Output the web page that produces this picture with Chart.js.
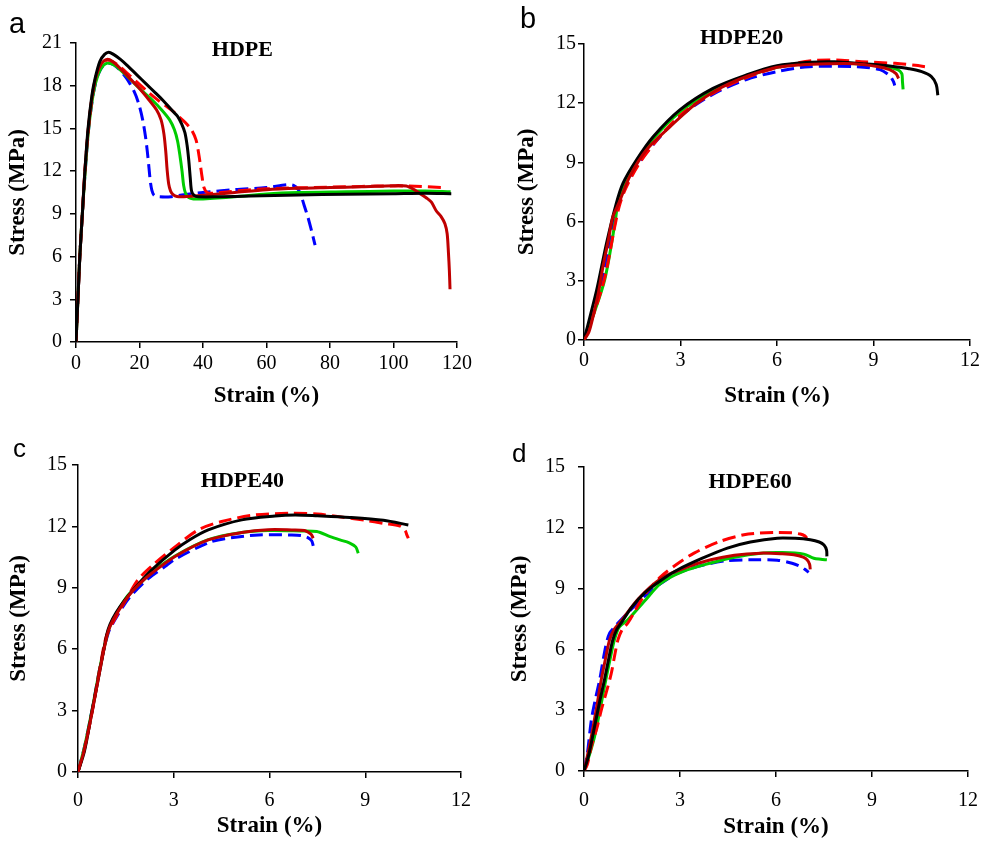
<!DOCTYPE html>
<html lang="en">
<head>
<meta charset="UTF-8">
<title>Stress-strain curves HDPE</title>
<script src="https://cdn.jsdelivr.net/npm/chart.js"></script>
<style>
    body { margin: 0; background: #fff; }
    #wrap { position: relative; width: 990px; height: 842px; }
    canvas { position: absolute; }
</style>
</head>
<body>
<div id="wrap">
    <canvas id="panelA" width="495" height="420" style="left:0;top:0"></canvas>
    <canvas id="panelB" width="495" height="420" style="left:495px;top:0"></canvas>
    <canvas id="panelC" width="495" height="422" style="left:0;top:420px"></canvas>
    <canvas id="panelD" width="495" height="422" style="left:495px;top:420px"></canvas>
</div>
<script>
// ---- data: strain (%) and stress (MPa) per specimen ----

// a: HDPE
const aBlackX = [0, 0.6, 1.2, 2, 2.8, 3.8, 5, 6, 7.5, 9, 10.3, 11.8, 14, 16, 19, 22, 25, 27.5, 30.5, 32, 33.3, 34.3, 35, 35.5, 36, 36.4, 37.2, 38.5, 45, 55, 70, 85, 100, 110, 118.2];
const aBlackY = [0, 3, 6, 9, 12, 15, 17.3, 18.5, 19.7, 20.2, 20.35, 20.2, 19.85, 19.45, 18.8, 18.15, 17.5, 16.95, 16.2, 15.85, 15.3, 14.7, 13.8, 12.8, 11.5, 10.6, 10.3, 10.2, 10.2, 10.25, 10.32, 10.38, 10.42, 10.45, 10.42];
const aGreenX = [0, 0.6, 1.2, 2, 2.9, 4, 5.5, 7, 8.5, 10, 12, 15, 18, 21, 24, 27, 29.5, 31, 32, 32.8, 33.4, 33.9, 34.5, 35.5, 37, 40, 50, 60, 70, 85, 100, 110, 118];
const aGreenY = [0, 3, 6, 9, 12, 15, 17.5, 18.8, 19.4, 19.6, 19.45, 18.9, 18.25, 17.6, 17.0, 16.3, 15.6, 14.9, 14.1, 13.0, 12.0, 11.0, 10.45, 10.15, 10.05, 10.05, 10.2, 10.4, 10.5, 10.55, 10.6, 10.6, 10.55];
const aDarkRedX = [0, 0.6, 1.2, 2, 2.8, 3.9, 5.2, 6.5, 8, 9.8, 11.5, 14, 17, 20, 23, 25.4, 26.8, 27.7, 28.3, 28.7, 29.2, 29.8, 30.6, 31.8, 34, 40, 50, 60, 70, 80, 90, 100, 104, 106.5, 108.5, 110.5, 112, 113.5, 115, 116.2, 116.9, 117.3, 117.6, 117.8];
const aDarkRedY = [0, 3, 6, 9, 12, 15, 17.4, 18.8, 19.55, 19.85, 19.7, 19.2, 18.5, 17.8, 17.0, 16.3, 15.6, 14.6, 13.3, 12.1, 11.1, 10.6, 10.35, 10.22, 10.2, 10.3, 10.5, 10.7, 10.8, 10.85, 10.9, 10.98, 10.95, 10.7, 10.4, 10.1, 9.8, 9.2, 8.8, 8.3, 7.6, 6.3, 5.0, 3.7];
const aBlueX = [0, 0.6, 1.2, 2, 2.9, 4, 5.5, 7, 8.5, 10, 12, 14, 16, 18.3, 19.8, 21, 21.9, 22.5, 23, 23.4, 23.9, 24.6, 26, 30, 34, 40, 50, 60, 66.5, 68.5, 70, 71, 72, 73, 74.2, 75.3];
const aBlueY = [0, 3, 6, 9, 12, 15, 17.5, 18.8, 19.4, 19.6, 19.45, 19.05, 18.5, 17.6, 16.7, 15.6, 14.4, 13.3, 12.2, 11.3, 10.65, 10.3, 10.2, 10.2, 10.35, 10.5, 10.7, 10.85, 11.05, 11.0, 10.7, 10.2, 9.5, 8.8, 7.8, 6.8];
const aRedX = [0, 0.6, 1.2, 2, 2.8, 3.9, 5.2, 6.5, 8, 9.8, 11.5, 14, 17, 20, 23, 26, 28.5, 30.6, 32.5, 34.5, 36.4, 37.8, 38.6, 39.2, 39.7, 40.3, 41.3, 43.2, 48, 55, 65, 75, 85, 95, 105, 115];
const aRedY = [0, 3, 6, 9, 12, 15, 17.4, 18.8, 19.55, 19.8, 19.7, 19.3, 18.7, 18.1, 17.5, 16.95, 16.55, 16.2, 15.8, 15.4, 14.9, 14.2, 13.3, 12.4, 11.6, 10.85, 10.5, 10.45, 10.55, 10.7, 10.8, 10.85, 10.9, 10.95, 10.95, 10.85];

// b: HDPE20
const bBlackX = [0, 0.39, 0.7, 1.0, 1.21, 1.63, 2.15, 2.98, 4.01, 5.05, 6.0, 7.07, 7.8, 8.63, 9.2, 9.67, 10.1, 10.5, 10.8, 10.95, 11.0];
const bBlackY = [0, 2.5, 4.9, 6.9, 7.94, 9.12, 10.3, 11.66, 12.75, 13.43, 13.9, 14.08, 14.1, 14.0, 13.93, 13.85, 13.75, 13.6, 13.35, 12.95, 12.4];
const bGreenX = [0, 0.3, 0.65, 0.97, 1.05, 1.25, 1.65, 2.15, 2.98, 4.01, 5.05, 6.0, 7.1, 8.5, 9.4, 9.75, 9.88, 9.9, 9.92];
const bGreenY = [0, 1.3, 3.1, 6.0, 6.9, 7.85, 9.05, 10.2, 11.55, 12.65, 13.35, 13.82, 14.02, 14.0, 13.85, 13.7, 13.5, 13.1, 12.7];
const bDarkRedX = [0, 0.15, 0.28, 0.45, 0.59, 0.75, 0.9, 1.1, 1.42, 1.94, 2.67, 3.5, 4.53, 5.88, 6.8, 7.59, 8.4, 9.15, 9.5, 9.7, 9.78];
const bDarkRedY = [0, 0.4, 1.18, 2.4, 3.72, 5.0, 6.25, 7.0, 8.28, 9.63, 10.8, 12.0, 13.0, 13.77, 13.95, 14.0, 14.0, 13.85, 13.7, 13.5, 13.25];
const bBlueX = [0, 0.28, 0.6, 0.9, 1.05, 1.25, 1.65, 2.2, 3.0, 4.0, 5.05, 6.0, 7.0, 8.5, 9.2, 9.5, 9.62, 9.66];
const bBlueY = [0, 1.5, 3.3, 5.8, 6.8, 7.7, 8.85, 10.0, 11.35, 12.45, 13.2, 13.6, 13.85, 13.85, 13.7, 13.4, 13.1, 12.9];
const bRedX = [0, 0.3, 0.65, 0.95, 1.1, 1.3, 1.7, 2.25, 3.0, 4.0, 5.05, 6.0, 7.07, 8.0, 8.63, 9.67, 10.3, 10.6];
const bRedY = [0, 1.3, 3.2, 5.7, 6.8, 7.7, 8.9, 10.1, 11.4, 12.5, 13.3, 13.8, 14.15, 14.18, 14.1, 14.02, 13.92, 13.85];

// c: HDPE40
const cBlackX = [0, 0.2, 0.43, 0.69, 0.9, 1.0, 1.2, 1.47, 1.9, 2.31, 3.04, 3.5, 4.08, 5.13, 6.17, 6.8, 7.5, 8.52, 9.57, 10.35];
const cBlackY = [0, 1.0, 2.88, 5.0, 6.7, 7.2, 7.8, 8.41, 9.2, 9.88, 10.85, 11.35, 11.83, 12.32, 12.51, 12.56, 12.52, 12.44, 12.3, 12.07];
const cGreenX = [0, 0.2, 0.45, 0.7, 0.95, 1.15, 1.55, 2.0, 2.31, 3.04, 4.08, 5.13, 5.96, 6.96, 7.48, 7.9, 8.21, 8.5, 8.7, 8.78];
const cGreenY = [0, 1.2, 3.1, 5.2, 6.9, 7.6, 8.6, 9.3, 9.75, 10.55, 11.35, 11.7, 11.8, 11.78, 11.75, 11.5, 11.34, 11.2, 11.0, 10.69];
const cDarkRedX = [0, 0.2, 0.45, 0.7, 0.9, 1.0, 1.16, 1.58, 2.0, 2.31, 3.04, 4.08, 5.13, 5.96, 6.7, 7.1, 7.3, 7.37];
const cDarkRedY = [0, 1.1, 3.0, 5.1, 6.6, 7.1, 7.6, 8.6, 9.3, 9.71, 10.53, 11.34, 11.7, 11.84, 11.83, 11.8, 11.62, 11.42];
const cBlueX = [0, 0.2, 0.45, 0.7, 0.95, 1.2, 1.6, 2.2, 2.78, 3.04, 4.08, 4.6, 5.65, 6.7, 7.0, 7.2, 7.32, 7.37];
const cBlueY = [0, 1.2, 3.1, 5.2, 6.8, 7.55, 8.5, 9.45, 10.1, 10.4, 11.2, 11.4, 11.58, 11.58, 11.55, 11.45, 11.3, 11.05];
const cRedX = [0, 0.2, 0.45, 0.7, 0.9, 1.2, 1.5, 1.89, 2.41, 3.0, 3.77, 4.5, 5.55, 6.7, 7.5, 8.3, 9.0, 9.57, 10.09, 10.25, 10.3, 10.35];
const cRedY = [0, 1.1, 3.0, 5.2, 6.7, 7.6, 8.4, 9.41, 10.2, 10.95, 11.83, 12.24, 12.56, 12.64, 12.6, 12.45, 12.3, 12.15, 12.02, 11.8, 11.6, 11.42];

// d: HDPE60
const dBlackX = [0, 0.15, 0.33, 0.5, 0.64, 0.78, 0.9, 1.03, 1.16, 1.5, 1.89, 2.4, 2.93, 3.7, 4.48, 5.2, 6.04, 6.6, 7.07, 7.35, 7.5, 7.58, 7.59];
const dBlackY = [0, 0.8, 2.19, 3.5, 4.5, 5.6, 6.47, 7.0, 7.3, 8.1, 8.78, 9.4, 9.93, 10.5, 11.0, 11.3, 11.49, 11.48, 11.41, 11.3, 11.15, 10.9, 10.59];
const dGreenX = [0, 0.15, 0.33, 0.5, 0.64, 0.8, 0.95, 1.1, 1.37, 1.9, 2.41, 3.1, 3.96, 4.7, 5.52, 6.2, 6.87, 7.18, 7.4, 7.59];
const dGreenY = [0, 0.7, 1.7, 3.0, 4.17, 5.4, 6.47, 7.1, 7.46, 8.4, 9.27, 9.85, 10.26, 10.55, 10.75, 10.78, 10.7, 10.5, 10.45, 10.42];
const dDarkRedX = [0, 0.1, 0.23, 0.4, 0.54, 0.68, 0.8, 0.95, 1.16, 1.7, 2.41, 3.2, 3.96, 4.7, 5.52, 6.2, 6.56, 6.85, 6.97, 7.05, 7.07];
const dDarkRedY = [0, 0.7, 1.7, 3.2, 4.5, 5.6, 6.47, 7.0, 7.4, 8.5, 9.5, 10.05, 10.42, 10.65, 10.75, 10.72, 10.67, 10.55, 10.42, 10.2, 9.95];
const dBlueX = [0, 0.1, 0.23, 0.35, 0.49, 0.6, 0.7, 0.8, 0.95, 1.3, 1.89, 2.4, 2.93, 3.7, 4.48, 5.2, 6.04, 6.5, 6.76, 6.9, 7.02];
const dBlueY = [0, 0.8, 2.52, 3.5, 4.5, 5.5, 6.3, 6.8, 7.1, 7.7, 8.61, 9.25, 9.76, 10.15, 10.38, 10.42, 10.4, 10.25, 10.09, 9.95, 9.8];
const dRedX = [0, 0.1, 0.23, 0.4, 0.54, 0.7, 0.85, 0.97, 1.06, 1.2, 1.37, 1.9, 2.41, 2.9, 3.44, 4.2, 5.0, 5.5, 6.04, 6.5, 6.76, 6.9, 6.97];
const dRedY = [0, 0.3, 1.2, 2.1, 3.0, 3.9, 4.8, 5.8, 6.47, 7.0, 7.3, 8.7, 9.6, 10.2, 10.75, 11.3, 11.66, 11.74, 11.77, 11.75, 11.69, 11.6, 11.49];

// ---- styles ----
const SERIF = '"Liberation Serif", "Times New Roman", serif';
const SANS = '"Liberation Sans", Arial, sans-serif';
const styles = {
    darkRed: { color: '#C00000', dash: [] },
    black:   { color: '#000000', dash: [] },
    red:     { color: '#FF0000', dash: [13, 6] },
    green:   { color: '#00CC00', dash: [] },
    blue:    { color: '#0000FF', dash: [13, 6] }
};

function pts(xs, ys) {
    return xs.map((x, i) => ({ x: x, y: ys[i] }));
}

function series(style, xs, ys) {
    const s = styles[style];
    return {
        data: pts(xs, ys),
        borderColor: s.color,
        borderDash: s.dash,
        borderWidth: 3,
        pointRadius: 0,
        tension: 0.3,
        fill: false
    };
}

// letters and panel titles
const panelText = {
    id: 'panelText',
    afterDraw(chart, args, o) {
        const ctx = chart.ctx;
        ctx.save();
        ctx.fillStyle = '#000';
        ctx.font = o.letterSize + 'px ' + SANS;
        ctx.textAlign = 'left';
        ctx.textBaseline = 'alphabetic';
        ctx.fillText(o.letter, o.letterX, o.letterY);
        ctx.font = 'bold 22px ' + SERIF;
        ctx.textAlign = 'center';
        ctx.textBaseline = 'middle';
        ctx.fillText(o.title, chart.scales.x.getPixelForValue(o.titleAt[0]), chart.scales.y.getPixelForValue(o.titleAt[1]));
        ctx.restore();
    }
};

function makePanel(id, p) {
    new Chart(document.getElementById(id), {
        type: 'line',
        data: { datasets: p.datasets },
        plugins: [panelText],
        options: {
            responsive: false,
            animation: false,
            devicePixelRatio: 1,
            layout: { padding: { top: p.padTop, right: p.padRight, left: 0, bottom: 0 } },
            plugins: {
                legend: { display: false },
                tooltip: { enabled: false },
                panelText: { letter: p.letter, letterSize: p.letterSize, letterX: p.letterX, letterY: p.letterY, title: p.title, titleAt: p.titleAt }
            },
            scales: {
                x: {
                    type: 'linear',
                    min: 0, max: p.xMax,
                    afterFit: s => { s.height = p.xAxisH; },
                    border: { display: true, color: '#000', width: 1.5 },
                    grid: { drawOnChartArea: false, drawTicks: true, tickLength: 6, color: '#000', lineWidth: 1.5 },
                    ticks: { stepSize: p.xStep, color: '#000', padding: p.xTickPad, maxRotation: 0, autoSkip: false, font: { family: SERIF, size: 20 } },
                    title: { display: true, text: 'Strain (%)', color: '#000', padding: { top: 0, bottom: p.xTitlePad }, font: { family: SERIF, size: 23, weight: 'bold' } }
                },
                y: {
                    min: 0, max: p.yMax,
                    afterFit: s => { s.width = p.yAxisW; },
                    border: { display: true, color: '#000', width: 1.5 },
                    grid: { drawOnChartArea: false, drawTicks: true, tickLength: 6, color: '#000', lineWidth: 1.5 },
                    ticks: { stepSize: 3, color: '#000', padding: p.yTickPad, font: { family: SERIF, size: 20 } },
                    title: { display: true, text: 'Stress (MPa)', color: '#000', padding: { top: p.yTitlePad, bottom: 0 }, font: { family: SERIF, size: 23, weight: 'bold' } }
                }
            }
        }
    });
}

makePanel('panelA', {
    datasets: [
        series('black', aBlackX, aBlackY),
        series('darkRed', aDarkRedX, aDarkRedY),
        series('red', aRedX, aRedY),
        series('green', aGreenX, aGreenY),
        series('blue', aBlueX, aBlueY)
    ],
    xMax: 120, xStep: 20, yMax: 21,
    padTop: 43, padRight: 38, yAxisW: 76, xAxisH: 78,
    xTickPad: 3.5, yTickPad: 8, xTitlePad: 10, yTitlePad: 4,
    letter: 'a', letterSize: 29, letterX: 9, letterY: 33,
    title: 'HDPE', titleAt: [52.4, 20.5]
});

makePanel('panelB', {
    datasets: [
        series('darkRed', bDarkRedX, bDarkRedY),
        series('black', bBlackX, bBlackY),
        series('red', bRedX, bRedY),
        series('green', bGreenX, bGreenY),
        series('blue', bBlueX, bBlueY)
    ],
    xMax: 12, xStep: 3, yMax: 15,
    padTop: 44, padRight: 20, yAxisW: 89, xAxisH: 80,
    xTickPad: 3, yTickPad: 2, xTitlePad: 10, yTitlePad: 18,
    letter: 'b', letterSize: 29, letterX: 25, letterY: 28,
    title: 'HDPE20', titleAt: [4.9, 15.3]
});

makePanel('panelC', {
    datasets: [
        series('darkRed', cDarkRedX, cDarkRedY),
        series('black', cBlackX, cBlackY),
        series('red', cRedX, cRedY),
        series('green', cGreenX, cGreenY),
        series('blue', cBlueX, cBlueY)
    ],
    xMax: 12, xStep: 3, yMax: 15,
    padTop: 45, padRight: 34, yAxisW: 78, xAxisH: 70,
    xTickPad: 11, yTickPad: 5, xTitlePad: 2, yTitlePad: 5,
    letter: 'c', letterSize: 26, letterX: 13, letterY: 37,
    title: 'HDPE40', titleAt: [5.15, 14.22]
});

makePanel('panelD', {
    datasets: [
        series('black', dBlackX, dBlackY),
        series('darkRed', dDarkRedX, dDarkRedY),
        series('red', dRedX, dRedY),
        series('green', dGreenX, dGreenY),
        series('blue', dBlueX, dBlueY)
    ],
    xMax: 12, xStep: 3, yMax: 15,
    padTop: 47, padRight: 20, yAxisW: 89, xAxisH: 71,
    xTickPad: 12, yTickPad: 13, xTitlePad: 1.5, yTitlePad: 11,
    letter: 'd', letterSize: 26, letterX: 17, letterY: 42,
    title: 'HDPE60', titleAt: [5.19, 14.26]
});
</script>
</body>
</html>
